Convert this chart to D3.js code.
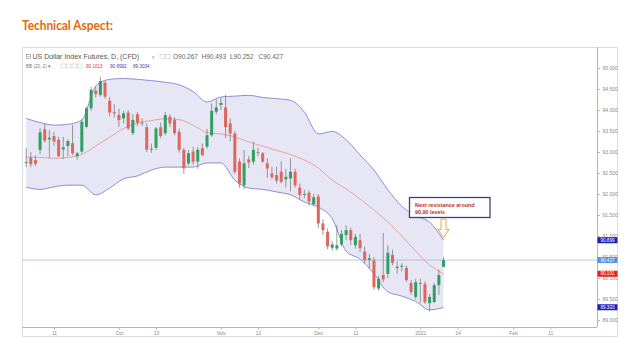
<!DOCTYPE html>
<html>
<head>
<meta charset="utf-8">
<script src="https://cdn.jsdelivr.net/npm/d3@7"></script>
<style>
  body { margin: 0; background: #fff; }
  svg { display: block; }
</style>
</head>
<body>
<svg id="chart" width="640" height="351"></svg>
<script>

/////
//
// Data (daily bars, US Dollar Index CFD)
//
/////

var dates = ["Sep 2","Sep 3","Sep 4","Sep 8","Sep 9","Sep 10","Sep 11","Sep 14","Sep 15","Sep 16",
  "Sep 17","Sep 18","Sep 21","Sep 22","Sep 23","Sep 24","Sep 25","Sep 28","Sep 29","Sep 30",
  "Oct 1","Oct 2","Oct 5","Oct 6","Oct 7","Oct 8","Oct 9","Oct 12","Oct 13","Oct 14",
  "Oct 15","Oct 16","Oct 19","Oct 20","Oct 21","Oct 22","Oct 23","Oct 26","Oct 27","Oct 28",
  "Oct 29","Oct 30","Nov 2","Nov 3","Nov 4","Nov 5","Nov 6","Nov 9","Nov 10","Nov 11",
  "Nov 12","Nov 13","Nov 16","Nov 17","Nov 18","Nov 19","Nov 20","Nov 23","Nov 24","Nov 25",
  "Nov 26","Nov 27","Nov 30","Dec 1","Dec 2","Dec 3","Dec 4","Dec 7","Dec 8","Dec 9",
  "Dec 10","Dec 11","Dec 14","Dec 15","Dec 16","Dec 17","Dec 18","Dec 21","Dec 22","Dec 23",
  "Dec 24","Dec 28","Dec 29","Dec 30","Dec 31","Jan 4","Jan 5","Jan 6","Jan 7","Jan 8","Jan 11"];

var open = [92.74,92.86,92.81,93.05,93.54,93.30,93.38,93.29,93.06,93.14,
  93.21,92.90,93.01,93.60,94.04,94.46,94.36,94.65,94.22,93.95,
  93.88,93.80,93.94,93.45,93.90,93.70,93.59,93.06,93.10,93.59,
  93.45,93.84,93.76,93.48,93.05,92.73,93.01,92.77,93.09,93.13,
  93.40,93.96,94.12,94.06,93.68,93.44,92.77,92.21,92.82,92.77,
  93.00,92.97,92.73,92.49,92.45,92.53,92.35,92.37,92.53,92.15,
  91.98,92.03,91.76,91.94,91.30,91.10,90.72,90.70,90.80,91.02,
  91.14,90.78,90.90,90.63,90.43,90.42,89.75,90.07,90.10,90.55,
  90.24,90.28,90.24,89.88,89.55,89.88,89.86,89.40,89.43,89.83,90.267];

var high = [93.09,93.00,92.92,93.57,93.68,93.52,93.47,93.36,93.36,93.30,
  93.64,93.00,93.78,94.08,94.55,94.55,94.79,94.70,94.31,94.14,
  94.03,93.98,94.00,93.90,93.95,93.80,93.68,93.20,93.60,93.70,
  93.95,93.90,93.83,93.56,93.10,93.05,93.12,93.12,93.20,93.55,
  94.16,94.25,94.28,94.36,93.80,93.50,92.85,93.05,92.90,93.25,
  93.10,93.00,92.85,92.65,92.65,92.78,92.60,92.86,92.60,92.25,
  92.10,92.08,92.00,92.00,91.40,91.18,90.88,91.26,91.15,91.25,
  91.20,91.05,91.05,90.75,90.58,90.50,90.05,91.07,90.78,90.68,
  90.40,90.35,90.30,89.95,89.98,89.98,89.92,89.62,89.88,90.20,90.493];

var low = [92.64,92.64,92.66,92.95,93.22,92.85,93.15,92.88,92.83,92.90,
  92.92,92.82,92.97,93.56,93.98,94.30,94.32,94.27,93.85,93.82,
  93.60,93.68,93.52,93.40,93.62,93.62,93.00,92.98,93.05,93.33,
  93.40,93.60,93.40,92.98,92.48,92.68,92.70,92.60,92.90,93.08,
  93.36,93.90,94.00,93.33,93.25,92.48,92.15,92.12,92.62,92.70,
  92.90,92.75,92.38,92.35,92.25,92.25,92.15,92.06,92.15,91.88,
  91.90,91.72,91.70,91.19,91.02,90.68,90.65,90.65,90.75,90.90,
  90.78,90.70,90.62,90.35,90.22,89.72,89.70,89.90,90.00,90.30,
  90.10,90.15,89.90,89.60,89.48,89.40,89.38,89.20,89.40,89.60,90.252];

var close = [92.76,92.71,92.72,93.47,93.27,93.34,93.25,92.90,93.11,93.26,
  92.97,92.97,93.72,94.04,94.48,94.38,94.69,94.32,93.94,93.92,
  93.76,93.92,93.56,93.76,93.70,93.68,93.06,93.08,93.56,93.38,
  93.88,93.68,93.45,93.05,92.61,92.97,92.77,93.05,92.93,93.40,
  93.98,94.06,94.17,93.59,93.44,92.53,92.25,92.73,92.75,93.05,
  92.98,92.77,92.61,92.40,92.32,92.29,92.41,92.53,92.21,91.98,
  92.00,91.82,91.92,91.30,91.14,90.75,90.80,90.78,91.05,91.14,
  90.90,90.98,90.71,90.43,90.47,89.78,89.98,89.97,90.60,90.36,
  90.27,90.29,89.95,89.67,89.90,89.86,89.43,89.55,89.83,90.07,90.427];

// Bollinger Bands (20, 2), read every third bar
var bandIdx = [0,3,6,9,12,15,18,21,24,27,30,33,36,39,42,45,48,51,54,57,60,63,66,69,72,75,78,81,84,87,90];
var bbUpper = [93.80,93.70,93.64,93.66,93.76,94.57,94.73,94.75,94.73,94.70,94.66,94.60,94.44,94.19,94.31,94.33,
  94.35,94.30,94.27,94.23,93.95,93.43,93.49,93.29,92.93,92.57,92.10,91.71,91.48,91.33,90.90];
var bbMiddle = [92.88,92.87,92.85,92.87,92.94,93.14,93.35,93.56,93.69,93.75,93.79,93.77,93.64,93.46,93.43,93.36,
  93.24,93.14,93.04,92.94,92.81,92.62,92.33,92.12,91.88,91.62,91.33,91.00,90.64,90.31,90.10];
var bbLower = [92.16,92.11,92.17,92.21,92.21,91.98,92.14,92.36,92.43,92.57,92.64,92.64,92.64,92.74,92.74,92.33,
  92.14,92.11,92.05,91.98,91.81,91.69,91.41,90.64,90.45,90.10,89.67,89.57,89.44,89.24,89.30];

// axis ticks
var yTicks = [89, 89.5, 90, 90.5, 91, 91.5, 92, 92.5, 93, 93.5, 94, 94.5, 95];
var xTickIdx = [6, 20, 28, 42, 50, 63, 71, 85, 93, 105, 113];
var xTickLabels = ["11", "Oct", "13", "Nov", "12", "Dec", "11", "2021", "14", "Feb", "11"];

// last values shown on the price scale
var lastPrice = 90.427;
var priceTags = [
  {v: 90.8992, txt: "90.899", col: "#1f1fb4"},
  {v: 90.427,  txt: "90.427", col: "#5b8ee6"},
  {v: 90.1013, txt: "90.101", col: "#e8231d"},
  {v: 89.3034, txt: "89.303", col: "#1f1fb4"}
];

/////
//
// Layout
//
/////

var frame = {left: 22, right: 617, top: 47, bottom: 336},
    plot = {left: 22, right: 597, top: 47, bottom: 327};

var svg = d3.select("#chart");

var x = d3.scaleLinear()
        .domain([-0.9, 123.1])
        .range([plot.left, plot.right]);

var y = d3.scaleLinear()
        .domain([89, 95])
        .range([320, 68]);

var upCol = "#2f9f62",
    downCol = "#df665c",
    bodyW = 3;

// title
svg.append("text")
   .attr("x", 22)
   .attr("y", 29.5)
   .attr("font-family", "Lato, 'Open Sans', sans-serif")
   .attr("font-weight", "bold")
   .attr("font-size", "12.5px")
   .attr("fill", "#e2690c")
   .attr("textLength", 91)
   .attr("lengthAdjust", "spacingAndGlyphs")
   .text("Technical Aspect:");

// outer frame
svg.append("rect")
   .attr("x", frame.left + 0.5)
   .attr("y", frame.top + 0.5)
   .attr("width", frame.right - frame.left)
   .attr("height", frame.bottom - frame.top)
   .attr("fill", "none")
   .attr("stroke", "#dcdcdc")
   .attr("stroke-width", 1);

svg.append("defs").append("clipPath")
   .attr("id", "clip")
   .append("rect")
   .attr("x", plot.left)
   .attr("y", plot.top)
   .attr("width", plot.right - plot.left)
   .attr("height", plot.bottom - plot.top);

var g = svg.append("g").attr("clip-path", "url(#clip)");

// Bollinger band
var bandData = bandIdx.map(function(d, i) {
  return {i: d, up: bbUpper[i], mid: bbMiddle[i], lo: bbLower[i]};
});

var area = d3.area()
    .x(function(d) { return x(d.i); })
    .y0(function(d) { return y(d.lo); })
    .y1(function(d) { return y(d.up); })
    .curve(d3.curveMonotoneX);

g.append("path")
 .datum(bandData)
 .attr("d", area)
 .attr("fill", "#e6e6f5");

function bandLine(key, col, w) {
  var line = d3.line()
      .x(function(d) { return x(d.i); })
      .y(function(d) { return y(d[key]); })
      .curve(d3.curveMonotoneX);
  g.append("path")
   .datum(bandData)
   .attr("d", line)
   .attr("fill", "none")
   .attr("stroke", col)
   .attr("stroke-width", w);
}
bandLine("up", "#8184c8", 0.9);
bandLine("lo", "#8184c8", 0.9);
bandLine("mid", "#e59090", 0.8);

// last price line
g.append("line")
 .attr("x1", plot.left)
 .attr("x2", plot.right)
 .attr("y1", y(lastPrice))
 .attr("y2", y(lastPrice))
 .attr("stroke", "#a9b6d6")
 .attr("stroke-width", 0.8);

// candles
var bars = dates.map(function(d, i) {
  return {date: d, i: i, o: open[i], h: high[i], l: low[i], c: close[i]};
});

var candle = g.selectAll(".candle")
    .data(bars)
  .enter().append("g")
    .attr("class", "candle");

candle.append("line")
    .attr("x1", function(d) { return x(d.i); })
    .attr("x2", function(d) { return x(d.i); })
    .attr("y1", function(d) { return y(d.h); })
    .attr("y2", function(d) { return y(d.l); })
    .attr("stroke", "#707070")
    .attr("stroke-width", 0.7);

candle.append("rect")
    .attr("x", function(d) { return x(d.i) - bodyW / 2; })
    .attr("width", bodyW)
    .attr("y", function(d) { return y(Math.max(d.o, d.c)); })
    .attr("height", function(d) { return Math.max(0.9, Math.abs(y(d.o) - y(d.c))); })
    .attr("fill", function(d) { return d.c >= d.o ? upCol : downCol; });

// axis lines
svg.append("line")
   .attr("x1", plot.right + 0.5).attr("x2", plot.right + 0.5)
   .attr("y1", plot.top).attr("y2", plot.bottom)
   .attr("stroke", "#b5b5b5").attr("stroke-width", 1);

svg.append("line")
   .attr("x1", plot.left).attr("x2", plot.right)
   .attr("y1", plot.bottom + 0.5).attr("y2", plot.bottom + 0.5)
   .attr("stroke", "#b5b5b5").attr("stroke-width", 1);

// right price axis
var yAxis = d3.axisRight(y)
    .tickValues(yTicks)
    .tickSize(2.5)
    .tickPadding(2.5)
    .tickFormat(d3.format(".3f"));

svg.append("g")
   .attr("class", "y axis")
   .attr("transform", "translate(" + (plot.right + 0.5) + ",0)")
   .call(yAxis)
   .call(function(a) {
     a.select(".domain").remove();
     a.selectAll("line").attr("stroke", "#b5b5b5");
     a.selectAll("text")
      .attr("font-family", "'Liberation Sans', Arial, sans-serif")
      .attr("font-size", "5px")
      .attr("fill", "#8a8a8a");
   });

// bottom time axis
var xAxis = d3.axisBottom(x)
    .tickValues(xTickIdx)
    .tickSize(2)
    .tickPadding(1.5)
    .tickFormat(function(d, i) { return xTickLabels[i]; });

svg.append("g")
   .attr("class", "x axis")
   .attr("transform", "translate(0," + (plot.bottom + 0.5) + ")")
   .call(xAxis)
   .call(function(a) {
     a.select(".domain").remove();
     a.selectAll("line").attr("stroke", "#b5b5b5");
     a.selectAll("text")
      .attr("font-family", "'Liberation Sans', Arial, sans-serif")
      .attr("font-size", "5px")
      .attr("fill", "#8a8a8a");
   });

// price tags on the right scale
var tag = svg.selectAll(".tag")
    .data(priceTags)
  .enter().append("g")
    .attr("class", "tag")
    .attr("transform", function(d) { return "translate(" + (plot.right + 0.5) + "," + y(d.v) + ")"; });

tag.append("rect")
   .attr("x", 0).attr("y", -3)
   .attr("width", 20).attr("height", 6)
   .attr("fill", function(d) { return d.col; });

tag.append("text")
   .attr("x", 10).attr("y", 1.7)
   .attr("text-anchor", "middle")
   .attr("font-family", "'Liberation Sans', Arial, sans-serif")
   .attr("font-size", "4.6px")
   .attr("fill", "#fff")
   .text(function(d) { return d.txt; });

// legend lines
var legend = svg.append("g")
    .attr("font-family", "'Liberation Sans', Arial, sans-serif");

legend.append("rect")
   .attr("x", 26.5).attr("y", 54.5).attr("width", 4).attr("height", 4)
   .attr("fill", "none").attr("stroke", "#777").attr("stroke-width", 0.5);
legend.append("line")
   .attr("x1", 27.3).attr("x2", 29.7).attr("y1", 56.5).attr("y2", 56.5)
   .attr("stroke", "#777").attr("stroke-width", 0.5);

legend.append("text")
   .attr("x", 32.5).attr("y", 59)
   .attr("font-size", "7px")
   .attr("fill", "#555")
   .text("US Dollar Index Futures, D, (CFD)");

legend.append("text")
   .attr("x", 152).attr("y", 58.5)
   .attr("font-size", "5px").attr("fill", "#aaa")
   .text("\u25BE");

[160, 165.5].forEach(function(px) {
  legend.append("rect")
     .attr("x", px).attr("y", 54.5).attr("width", 4.5).attr("height", 4)
     .attr("fill", "none").attr("stroke", "#c8c8c8").attr("stroke-width", 0.5);
});

var ohlc = [["O", "90.267", 173], ["H", "90.493", 201.5], ["L", "90.252", 230], ["C", "90.427", 258.5]];
ohlc.forEach(function(d) {
  legend.append("text")
     .attr("x", d[2]).attr("y", 59)
     .attr("font-size", "6.5px")
     .attr("fill", "#666")
     .text(d[0] + d[1]);
});

legend.append("text")
   .attr("x", 26).attr("y", 67.5)
   .attr("font-size", "4.6px")
   .attr("fill", "#777")
   .text("BB (20, 2) \u25BE");

[61, 66.5, 72, 77.5].forEach(function(px) {
  legend.append("rect")
     .attr("x", px).attr("y", 64).attr("width", 4.5).attr("height", 4)
     .attr("fill", "none").attr("stroke", "#c8c8c8").attr("stroke-width", 0.5);
});

var bbVals = [["90.1013", "#d23a3a", 86], ["90.8992", "#3b3fae", 110], ["89.3034", "#3b3fae", 133]];
bbVals.forEach(function(d) {
  legend.append("text")
     .attr("x", d[2]).attr("y", 67.5)
     .attr("font-size", "4.6px")
     .attr("fill", d[1])
     .text(d[0]);
});

// annotation box
var note = svg.append("g");

note.append("rect")
   .attr("x", 409.5).attr("y", 197.5)
   .attr("width", 80.5).attr("height", 20)
   .attr("fill", "#fff")
   .attr("stroke", "#3d3d8e")
   .attr("stroke-width", 1.3);

note.selectAll("text")
   .data(["Next resistance around", "90.90 levels"])
  .enter().append("text")
   .attr("x", 415)
   .attr("y", function(d, i) { return 206.5 + i * 7.5; })
   .attr("font-family", "'Liberation Sans', Arial, sans-serif")
   .attr("font-weight", "bold")
   .attr("font-size", "5.4px")
   .attr("fill", "#b8322a")
   .text(function(d) { return d; });

// hollow arrow pointing down to the upper band
var ax = 443.5, atop = 219, ashaft = 229.5, atip = 237.5;
note.append("path")
   .attr("d", "M" + (ax - 2.5) + "," + atop +
              "L" + (ax + 2.5) + "," + atop +
              "L" + (ax + 2.5) + "," + ashaft +
              "L" + (ax + 5.5) + "," + ashaft +
              "L" + ax + "," + atip +
              "L" + (ax - 5.5) + "," + ashaft +
              "L" + (ax - 2.5) + "," + ashaft + "Z")
   .attr("fill", "#fff")
   .attr("stroke", "#f0a23a")
   .attr("stroke-width", 1);

</script>
</body>
</html>
